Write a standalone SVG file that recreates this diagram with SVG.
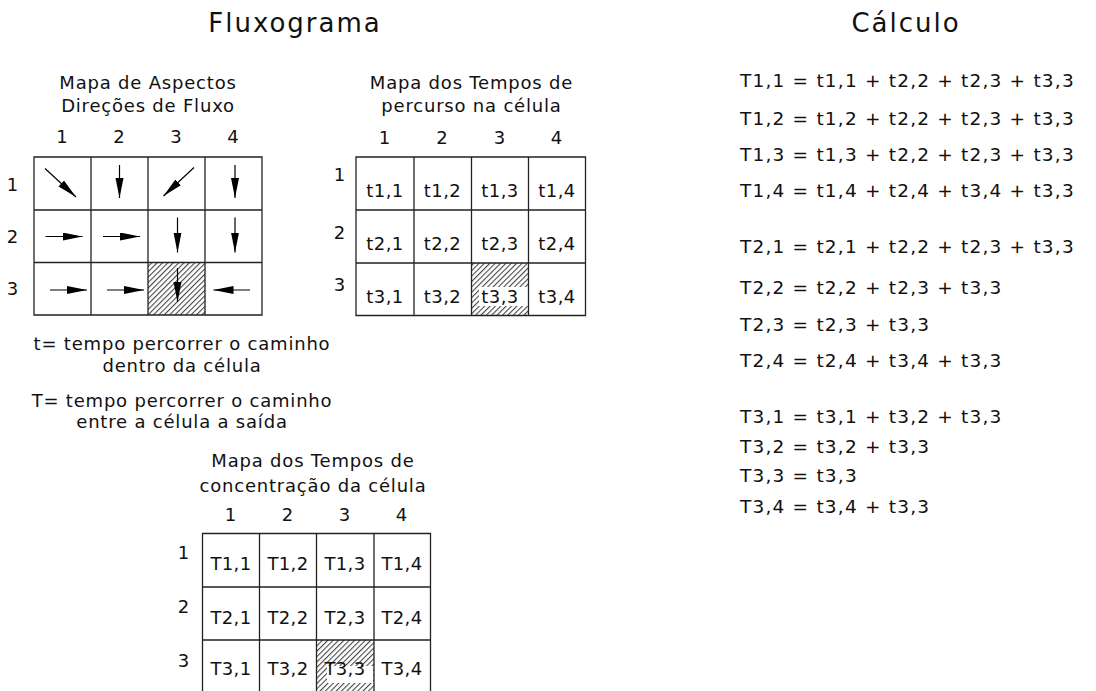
<svg xmlns="http://www.w3.org/2000/svg" width="1096" height="691" viewBox="0 0 1096 691">
<style>
text{font-family:"DejaVu Sans","Noto Sans",sans-serif;fill:#111}
.h{font-size:26px;letter-spacing:2px;text-anchor:middle}
.t{font-size:18px;letter-spacing:0.8px;text-anchor:middle}
.c{font-size:18px;letter-spacing:0.4px;text-anchor:middle}
.e{font-size:18.5px;letter-spacing:1.2px}
.g{fill:none;stroke:#222;stroke-width:1.3}
.a{stroke:#000;stroke-width:1.2;fill:none;marker-end:url(#ah)}
</style>
<defs>
<marker id="ah" markerUnits="userSpaceOnUse" markerWidth="21" markerHeight="9" refX="20" refY="4" orient="auto">
<path d="M0,0 L20,4 L0,8 Z" fill="#000"/>
</marker>
<pattern id="hatch" width="3.8" height="3.8" patternUnits="userSpaceOnUse" patternTransform="rotate(45)">
<line x1="0.6" y1="0" x2="0.6" y2="3.8" stroke="#111" stroke-width="0.85"/>
</pattern>
</defs>
<text class="h" x="295" y="32">Fluxograma</text>
<text class="h" x="906" y="32">Cálculo</text>

<g id="mapa-aspectos">
<text class="t" x="148" y="89">Mapa de Aspectos</text>
<text class="t" x="148" y="112">Direções de Fluxo</text>
<text class="t" x="62.5" y="143">1</text><text class="t" x="119.5" y="143">2</text><text class="t" x="176.5" y="143">3</text><text class="t" x="233.5" y="143">4</text>
<text class="t" x="13" y="191">1</text><text class="t" x="13" y="243">2</text><text class="t" x="13" y="295">3</text>
<rect x="148" y="262.5" width="57" height="52.5" fill="url(#hatch)"/>
<path class="g" d="M34,157H262V315H34Z M91,157V315 M148,157V315 M205,157V315 M34,210H262 M34,262.5H262"/>
</g>

<g id="connectors">
<line class="a" x1="45" y1="168.5" x2="76" y2="197"/>
<line class="a" x1="119.5" y1="165" x2="119.5" y2="198"/>
<line class="a" x1="194" y1="167.5" x2="163.5" y2="196"/>
<line class="a" x1="235" y1="165" x2="235" y2="198"/>
<line class="a" x1="45.5" y1="236.5" x2="82.5" y2="236.5"/>
<line class="a" x1="103" y1="236.5" x2="140" y2="236.5"/>
<line class="a" x1="177.5" y1="217.5" x2="177.5" y2="252.5"/>
<line class="a" x1="235" y1="217.5" x2="235" y2="252.5"/>
<line class="a" x1="50" y1="290" x2="87" y2="290"/>
<line class="a" x1="107" y1="290" x2="144" y2="290"/>
<line class="a" x1="177.5" y1="268" x2="177.5" y2="302"/>
<line class="a" x1="250" y1="290" x2="213.5" y2="290"/>
</g>

<g id="legenda">
<text class="t" x="182" y="350">t= tempo percorrer o caminho</text>
<text class="t" x="182" y="371.5">dentro da célula</text>
<text class="t" x="182" y="407">T= tempo percorrer o caminho</text>
<text class="t" x="182" y="428">entre a célula a saída</text>
</g>

<g id="mapa-tempos-percurso">
<text class="t" x="471.5" y="89">Mapa dos Tempos de</text>
<text class="t" x="471.5" y="112">percurso na célula</text>
<text class="t" x="385" y="144">1</text><text class="t" x="442.5" y="144">2</text><text class="t" x="500" y="144">3</text><text class="t" x="557" y="144">4</text>
<text class="t" x="340" y="181">1</text><text class="t" x="340" y="239">2</text><text class="t" x="340" y="291">3</text>
<rect x="471.5" y="263" width="57" height="52.5" fill="url(#hatch)"/>
<rect x="479" y="287" width="49" height="19" fill="#fff"/>
<path class="g" d="M356,157H585.5V315.5H356Z M414,157V315.5 M471.5,157V315.5 M528.5,157V315.5 M356,210H585.5 M356,263H585.5"/>
<text class="c" x="385" y="196.5">t1,1</text><text class="c" x="442.5" y="196.5">t1,2</text><text class="c" x="500" y="196.5">t1,3</text><text class="c" x="557" y="196.5">t1,4</text>
<text class="c" x="385" y="250">t2,1</text><text class="c" x="442.5" y="250">t2,2</text><text class="c" x="500" y="250">t2,3</text><text class="c" x="557" y="250">t2,4</text>
<text class="c" x="385" y="302.5">t3,1</text><text class="c" x="442.5" y="302.5">t3,2</text><text class="c" x="500" y="302.5">t3,3</text><text class="c" x="557" y="302.5">t3,4</text>
</g>

<g id="mapa-tempos-concentracao">
<text class="t" x="313" y="466.5">Mapa dos Tempos de</text>
<text class="t" x="313" y="491.5">concentração da célula</text>
<text class="t" x="231" y="521">1</text><text class="t" x="288" y="521">2</text><text class="t" x="345" y="521">3</text><text class="t" x="402" y="521">4</text>
<text class="t" x="184" y="559">1</text><text class="t" x="184" y="613">2</text><text class="t" x="184" y="666.5">3</text>
<rect x="316.5" y="640" width="57.5" height="53" fill="url(#hatch)"/>
<rect x="327" y="666" width="46" height="17" fill="#fff"/>
<path class="g" d="M202.5,533.5H430.5V693H202.5Z M259.5,533.5V693 M316.5,533.5V693 M374,533.5V693 M202.5,587H430.5 M202.5,640H430.5"/>
<text class="c" x="231" y="570">T1,1</text><text class="c" x="288" y="570">T1,2</text><text class="c" x="345" y="570">T1,3</text><text class="c" x="402" y="570">T1,4</text>
<text class="c" x="231" y="623.5">T2,1</text><text class="c" x="288" y="623.5">T2,2</text><text class="c" x="345" y="623.5">T2,3</text><text class="c" x="402" y="623.5">T2,4</text>
<text class="c" x="231" y="675">T3,1</text><text class="c" x="288" y="675">T3,2</text><text class="c" x="345" y="675">T3,3</text><text class="c" x="402" y="675">T3,4</text>
</g>

<g id="calculo">
<text class="e" x="740" y="86.5">T1,1 = t1,1 + t2,2 + t2,3 + t3,3</text>
<text class="e" x="740" y="125">T1,2 = t1,2 + t2,2 + t2,3 + t3,3</text>
<text class="e" x="740" y="160.5">T1,3 = t1,3 + t2,2 + t2,3 + t3,3</text>
<text class="e" x="740" y="196.5">T1,4 = t1,4 + t2,4 + t3,4 + t3,3</text>
<text class="e" x="740" y="252.5">T2,1 = t2,1 + t2,2 + t2,3 + t3,3</text>
<text class="e" x="740" y="294">T2,2 = t2,2 + t2,3 + t3,3</text>
<text class="e" x="740" y="331">T2,3 = t2,3 + t3,3</text>
<text class="e" x="740" y="367">T2,4 = t2,4 + t3,4 + t3,3</text>
<text class="e" x="740" y="422.5">T3,1 = t3,1 + t3,2 + t3,3</text>
<text class="e" x="740" y="453">T3,2 = t3,2 + t3,3</text>
<text class="e" x="740" y="482">T3,3 = t3,3</text>
<text class="e" x="740" y="512.5">T3,4 = t3,4 + t3,3</text>
</g>
</svg>
